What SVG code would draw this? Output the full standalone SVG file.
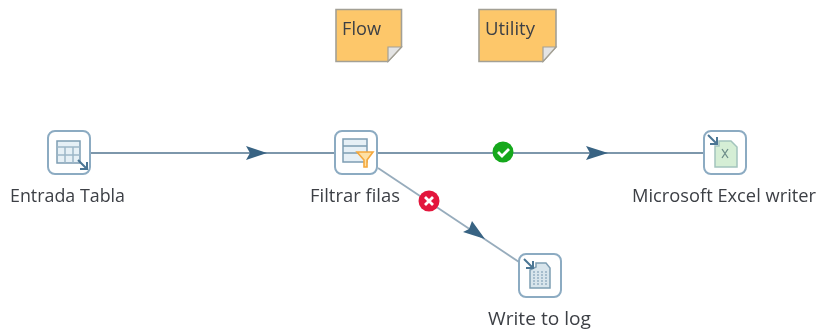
<svg xmlns="http://www.w3.org/2000/svg" width="818" height="330" viewBox="0 0 818 330">
<style>
text{font-family:"Open Sans","Liberation Sans",sans-serif;font-size:18px;fill:#3c3f45;filter:url(#soft)}
.note{fill:#fdc76a;stroke:#a3a095;stroke-width:1.6}
.fold{fill:#e4e4e4;stroke:#a3a095;stroke-width:1.2}
.box{fill:#fff;stroke:#8cabc2;stroke-width:2}
.ic{fill:#e6f0f6;stroke:#7d9db3;stroke-width:1.5}
.ar{fill:none;stroke:#4b7694;stroke-width:2}
.hop{fill:none;stroke:#7d97ab;stroke-width:1.8}
.head{fill:#386383}
.s{filter:url(#soft)}
</style>
<defs><filter id="soft" x="-10%" y="-10%" width="120%" height="120%"><feGaussianBlur stdDeviation="0.45"/></filter></defs>
<g id="connectors" class="s">
<line class="hop" x1="90" y1="153" x2="335" y2="153"/>
<polygon class="head" points="246,146 267,153 246,160 250,153"/>
<line class="hop" x1="378" y1="153" x2="703" y2="153"/>
<polygon class="head" points="586,146 608,153 586,160 590,153"/>
<line class="hop" stroke-opacity=".8" x1="378" y1="168" x2="519" y2="262"/>
<polygon class="head" points="472,221 485,239 463,232 469,229"/>
<g id="ok"><circle cx="503" cy="152" r="10.500" fill="#12a81c"/><path d="M498 152l4 4 7-7" fill="none" stroke="#fff" stroke-width="2.800"/></g>
<g id="err"><circle cx="429" cy="201" r="10.500" fill="#e3173c"/><path d="M425 197l8 8M433 197l-8 8" fill="none" stroke="#fff" stroke-width="2.800"/></g>
</g>
<g id="note-flow">
<g class="s"><path class="note" d="M336 9.500H401.500V47L388 61.500H336Z"/>
<path class="fold" d="M388 61.500V47H401.500Z"/></g>
<text x="342" y="35" textLength="39" lengthAdjust="spacingAndGlyphs">Flow</text>
</g>
<g id="note-utility">
<g class="s"><path class="note" d="M479 9.500H556V47L543 61.500H479Z"/>
<path class="fold" d="M543 61.500V47H556Z"/></g>
<text x="485" y="35" textLength="50" lengthAdjust="spacingAndGlyphs">Utility</text>
</g>
<g id="entrada-tabla">
<g class="s"><rect class="box" x="48" y="131" width="42" height="43" rx="7"/>
<rect class="ic" x="57" y="141" width="23" height="22"/>
<path d="M57 147H80M57 155H80M65 147V163M73 147V163" fill="none" stroke="#9db6c8" stroke-width="1.500"/>
<path class="ar" d="M78 160l8 8M87 162v7h-7"/></g>
<text x="10" y="202" textLength="115" lengthAdjust="spacingAndGlyphs">Entrada Tabla</text>
</g>
<g id="filtrar-filas">
<g class="s"><rect class="box" x="335" y="131" width="42" height="43" rx="7"/>
<rect class="ic" x="343" y="139" width="24" height="23"/>
<path d="M343 146H367M343 153H367" stroke="#7d9db3" stroke-width="1.500"/>
<path d="M357 152H373L367 160V167H364V160Z" fill="#fde0a5" stroke="#f5a83c" stroke-width="1.600"/></g>
<text x="310" y="202" textLength="90" lengthAdjust="spacingAndGlyphs">Filtrar filas</text>
</g>
<g id="excel-writer">
<g class="s"><rect class="box" x="704" y="131" width="42" height="43" rx="7"/>
<path d="M715 146H719V141H731L737 147V167H715Z" fill="#d5eed5" stroke="#a3c4bd" stroke-width="1.500"/>
<path d="M722 149l6 9M728 149l-6 9" fill="none" stroke="#6d8d89" stroke-width="1.300"/>
<path class="ar" d="M708 135l8 8M717 137v7h-7"/></g>
<text x="632" y="202" textLength="184" lengthAdjust="spacingAndGlyphs">Microsoft Excel writer</text>
</g>
<g id="write-to-log">
<g class="s"><rect class="box" x="519" y="254" width="42" height="43" rx="7"/>
<path d="M530 270L536 267V263H546L550 268V288H530Z" fill="#d8e5ec" stroke="#7e9eb3" stroke-width="1.500"/>
<path d="M534 271V286M538 271V286M542 271V286M546 271V286" stroke="#95b0c2" stroke-width="1.500" stroke-dasharray="2 1"/>
<path class="ar" d="M524 259l8 8M533 261v7h-7"/></g>
<text x="488" y="325" textLength="103" lengthAdjust="spacingAndGlyphs">Write to log</text>
</g>
</svg>
